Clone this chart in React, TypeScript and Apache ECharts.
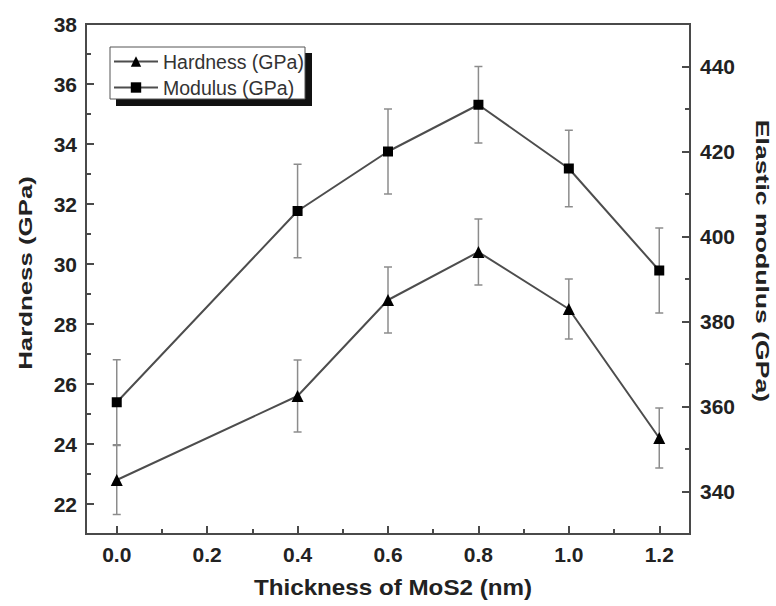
import React, { useEffect, useRef } from 'react';
import * as echarts from 'echarts';

const thickness = [0, 0.4, 0.6, 0.8, 1.0, 1.2];
const hardness = [22.8, 25.6, 28.8, 30.4, 28.5, 24.2];
const hardnessErr = [1.15, 1.2, 1.1, 1.1, 1.0, 1.0];
const modulus = [361, 406, 420, 431, 416, 392];
const modulusErr = [10, 11, 10, 9, 9, 10];

const xTicks = [0, 0.2, 0.4, 0.6, 0.8, 1.0, 1.2];
const xMinorTicks = [0.1, 0.3, 0.5, 0.7, 0.9, 1.1];
const leftTicks = [22, 24, 26, 28, 30, 32, 34, 36, 38];
const leftMinorTicks = [23, 25, 27, 29, 31, 33, 35, 37];
const rightTicks = [340, 360, 380, 400, 420, 440];
const rightMinorTicks = [350, 370, 390, 410, 430];

const FONT = "'Liberation Sans', Arial, Helvetica, sans-serif";
const AXIS_COLOR = '#4a4a4a';
const LABEL_COLOR = '#222';

const errRender = (params: any, api: any) => {
  const x = api.value(0);
  const lo = api.value(1);
  const hi = api.value(2);
  const pLo = api.coord([x, lo]);
  const pHi = api.coord([x, hi]);
  const w = 4;
  const style = { stroke: '#8c8c8c', lineWidth: 1.5 };
  return {
    type: 'group',
    children: [
      { type: 'line', shape: { x1: pLo[0], y1: pLo[1], x2: pHi[0], y2: pHi[1] }, style },
      { type: 'line', shape: { x1: pLo[0] - w, y1: pLo[1], x2: pLo[0] + w, y2: pLo[1] }, style },
      { type: 'line', shape: { x1: pHi[0] - w, y1: pHi[1], x2: pHi[0] + w, y2: pHi[1] }, style },
    ],
  };
};

export default function App() {
  const ref = useRef<HTMLDivElement>(null);
  useEffect(() => {
    if (!ref.current) return;
    const chart = echarts.init(ref.current, undefined, { renderer: 'svg' });
    const labelStyle = { color: LABEL_COLOR, fontSize: 21, fontWeight: 'bold' as const, fontFamily: FONT };
    const tickLine = { color: AXIS_COLOR, width: 2 };
    const option: any = {
      animation: false,
      backgroundColor: '#fff',
      grid: {
        left: 86,
        top: 24,
        width: 604,
        height: 510,
        show: true,
        borderColor: AXIS_COLOR,
        borderWidth: 2,
        backgroundColor: 'transparent',
      },
      legend: {
        data: ['Hardness (GPa)', 'Modulus (GPa)'],
        orient: 'vertical',
        left: 113,
        top: 51,
        padding: 0,
        itemWidth: 44,
        itemHeight: 13,
        itemGap: 5,
        z: 10,
        textStyle: { fontSize: 19.5, color: '#333', fontFamily: FONT, lineHeight: 21 },
      },
      xAxis: [
        {
          type: 'value',
          min: -0.068,
          max: 1.268,
          axisLine: { show: true, onZero: false, lineStyle: tickLine },
          axisTick: { show: true, inside: true, length: 8, customValues: xTicks, lineStyle: tickLine },
          axisLabel: { ...labelStyle, margin: 10, customValues: xTicks, formatter: (v: number) => v.toFixed(1) },
          splitLine: { show: false },
        },
        {
          type: 'value',
          position: 'bottom',
          min: -0.068,
          max: 1.268,
          axisLine: { show: false, onZero: false },
          axisTick: { show: true, inside: true, length: 5, customValues: xMinorTicks, lineStyle: tickLine },
          axisLabel: { show: false },
          splitLine: { show: false },
        },
      ],
      yAxis: [
        {
          type: 'value',
          position: 'left',
          min: 21,
          max: 38,
          axisLine: { show: true, onZero: false, lineStyle: tickLine },
          axisTick: { show: true, inside: true, length: 8, customValues: leftTicks, lineStyle: tickLine },
          axisLabel: { ...labelStyle, margin: 9, customValues: leftTicks },
          splitLine: { show: false },
        },
        {
          type: 'value',
          position: 'right',
          min: 330,
          max: 450,
          axisLine: { show: true, onZero: false, lineStyle: tickLine },
          axisTick: { show: true, inside: true, length: 8, customValues: rightTicks, lineStyle: tickLine },
          axisLabel: { ...labelStyle, margin: 10, customValues: rightTicks },
          splitLine: { show: false },
        },
        {
          type: 'value',
          position: 'left',
          min: 21,
          max: 38,
          axisLine: { show: false, onZero: false },
          axisTick: { show: true, inside: true, length: 5, customValues: leftMinorTicks, lineStyle: tickLine },
          axisLabel: { show: false },
          splitLine: { show: false },
        },
        {
          type: 'value',
          position: 'right',
          min: 330,
          max: 450,
          axisLine: { show: false, onZero: false },
          axisTick: { show: true, inside: true, length: 5, customValues: rightMinorTicks, lineStyle: tickLine },
          axisLabel: { show: false },
          splitLine: { show: false },
        },
      ],
      graphic: [
        {
          type: 'rect',
          z: 1,
          shape: { x: 116, y: 53, width: 196, height: 53 },
          style: { fill: '#111' },
        },
        {
          type: 'rect',
          z: 2,
          shape: { x: 110, y: 47, width: 195, height: 52 },
          style: { fill: '#fff', stroke: '#555', lineWidth: 1 },
        },
        {
          type: 'text',
          x: 25,
          y: 273,
          rotation: Math.PI / 2,
          scaleX: 1.36,
          style: {
            text: 'Hardness (GPa)',
            fontSize: 19,
            fontWeight: 'bold',
            fontFamily: FONT,
            fill: LABEL_COLOR,
            align: 'center',
            verticalAlign: 'middle',
          },
        },
        {
          type: 'text',
          x: 763,
          y: 261,
          rotation: -Math.PI / 2,
          scaleX: 1.4,
          style: {
            text: 'Elastic modulus (GPa)',
            fontSize: 19,
            fontWeight: 'bold',
            fontFamily: FONT,
            fill: LABEL_COLOR,
            align: 'center',
            verticalAlign: 'middle',
          },
        },
        {
          type: 'text',
          x: 393,
          y: 587,
          scaleX: 1.1,
          style: {
            text: 'Thickness of MoS2 (nm)',
            fontSize: 22,
            fontWeight: 'bold',
            fontFamily: FONT,
            fill: LABEL_COLOR,
            align: 'center',
            verticalAlign: 'middle',
          },
        },
      ],
      series: [
        {
          name: 'Hardness (GPa)',
          type: 'line',
          xAxisIndex: 0,
          yAxisIndex: 0,
          data: thickness.map((x, i) => [x, hardness[i]]),
          symbol: 'triangle',
          symbolSize: 12,
          lineStyle: { color: '#4d4d4d', width: 2 },
          itemStyle: { color: '#000' },
          z: 3,
        },
        {
          name: 'Modulus (GPa)',
          type: 'line',
          xAxisIndex: 0,
          yAxisIndex: 1,
          data: thickness.map((x, i) => [x, modulus[i]]),
          symbol: 'rect',
          symbolSize: 10,
          lineStyle: { color: '#4d4d4d', width: 2 },
          itemStyle: { color: '#000' },
          z: 3,
        },
        {
          name: 'Hardness error',
          type: 'custom',
          xAxisIndex: 0,
          yAxisIndex: 0,
          renderItem: errRender,
          data: thickness.map((x, i) => [x, hardness[i] - hardnessErr[i], hardness[i] + hardnessErr[i]]),
          encode: { x: 0, y: [1, 2] },
          z: 1,
          silent: true,
        },
        {
          name: 'Modulus error',
          type: 'custom',
          xAxisIndex: 0,
          yAxisIndex: 1,
          renderItem: errRender,
          data: thickness.map((x, i) => [x, modulus[i] - modulusErr[i], modulus[i] + modulusErr[i]]),
          encode: { x: 0, y: [1, 2] },
          z: 1,
          silent: true,
        },
      ],
    };
    chart.setOption(option);
    return () => chart.dispose();
  }, []);
  return (
    <div
      ref={ref}
      style={{ position: 'absolute', left: 0, top: 0, width: 776, height: 606, background: '#fff' }}
    />
  );
}
